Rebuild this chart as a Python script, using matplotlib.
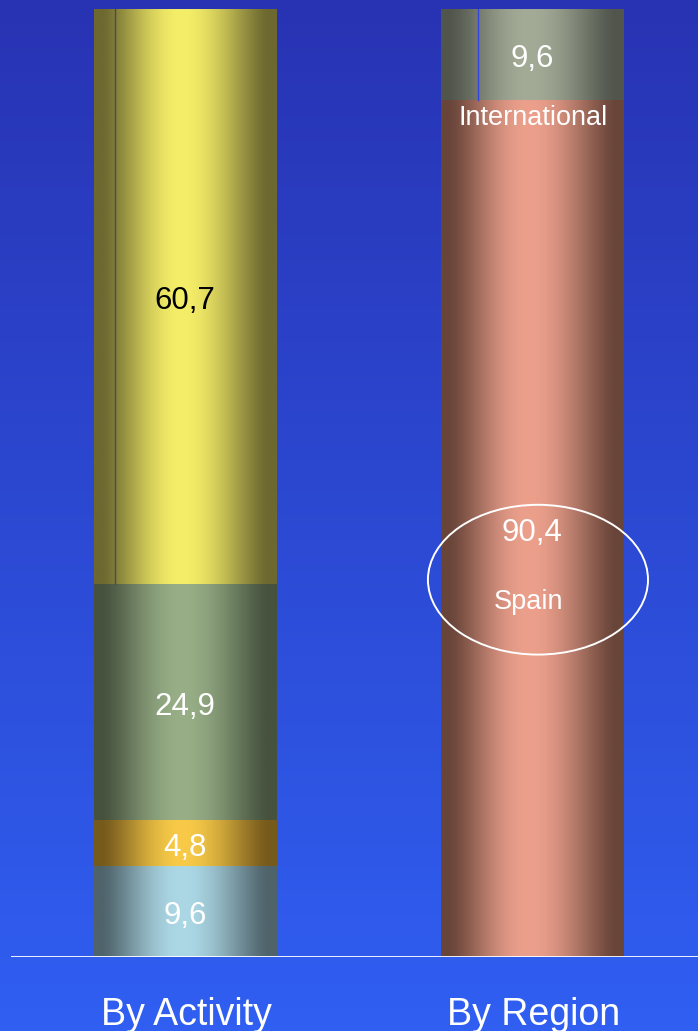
import numpy as np
import matplotlib
matplotlib.use("Agg")
import matplotlib.pyplot as plt
from matplotlib.patches import Ellipse
from matplotlib.colors import to_rgb

plt.rcParams['font.family'] = ['Liberation Sans', 'DejaVu Sans']

groups = ["By Activity", "By Region"]
# stacked from the bottom up
activity_vals = [9.6, 4.8, 24.9, 60.7]
region_vals = [90.4, 9.6]
activity_edge = ["#4f636b", "#765a1c", "#46523e", "#6c6830"]
activity_mid = ["#acd8e5", "#f8ca48", "#97ae86", "#f5ee68"]
region_edge = ["#694539", "#51554c"]
region_mid = ["#eca08c", "#a3ab97"]
activity_txt = ["white", "white", "white", "black"]
region_txt = ["white", "white"]

W, H = 6.98, 10.31
fig = plt.figure(figsize=(W, H), dpi=100)

# background gradient, dark blue at the top, brighter blue at the bottom
bg = fig.add_axes([0, 0, 1, 1], zorder=0)
top, bot = np.array(to_rgb("#2833b3")), np.array(to_rgb("#305ff2"))
g = np.linspace(0, 1, 256)[:, None, None]
bg.imshow(top * (1 - g) + bot * g, aspect="auto", extent=(0, 1, 0, 1))
bg.axis("off")

ax = fig.add_axes([11 / 698, 1 - 957 / 1031, 1 - 11 / 698, (957 - 9) / 1031], zorder=1)
ax.patch.set_alpha(0)
ax.set_xlim(-0.501, 1.478)
ax.set_ylim(0, 100)
ax.axis("off")

bar_w = 0.5245


def cylinder(x, y0, h, c_edge, c_mid):
    # horizontal shading so the bar looks round
    u = np.linspace(0, 1, 200)
    peak = 0.48
    s = np.where(u < peak, u / peak, (1 - u) / (1 - peak))
    w = np.clip((s - 0.08) / 0.92, 0, 1)
    w = np.sin(w * np.pi / 2) ** 1.4
    e, m = np.array(to_rgb(c_edge)), np.array(to_rgb(c_mid))
    img = e[None, :] * (1 - w[:, None]) + m[None, :] * w[:, None]
    ax.imshow(img[None, :, :], aspect="auto", interpolation="bilinear",
              extent=(x - bar_w / 2, x + bar_w / 2, y0, y0 + h), zorder=2)


def stack(x, vals, edges, mids, tcols):
    base = 0
    for v, ce, cm, tc in zip(vals, edges, mids, tcols):
        cylinder(x, base, v, ce, cm)
        ax.text(x, base + v / 2 - 0.45, f"{v:.1f}".replace(".", ","), color=tc,
                fontsize=22.5, ha="center", va="center", zorder=4)
        base += v
    return base


stack(0, activity_vals, activity_edge, activity_mid, activity_txt)
stack(1, region_vals, region_edge, region_mid, region_txt)

# thin seams in the top segments
x0 = -bar_w / 2 + 0.06
ax.plot([x0, x0], [sum(activity_vals[:3]), 100], color="#4a4a5e", lw=1, zorder=3)
x1 = 1 - bar_w / 2 + 0.107
ax.plot([x1, x1], [region_vals[0], 100], color="#3442e0", lw=1, zorder=3)

ax.text(1.003, 88.5, "International", color="white", fontsize=19.5,
        ha="center", va="center", zorder=4)
ax.text(0.99, 37.5, "Spain", color="white", fontsize=19.5,
        ha="center", va="center", zorder=4)
ax.add_patch(Ellipse((1.017, 39.8), 0.634, 15.8, fill=False, ec="white",
                     lw=1.4, zorder=5, clip_on=False))

ax.axhline(0, color="white", lw=1.3, zorder=3)

for i, name in enumerate(groups):
    ax.text(i + 0.005, -6.1, name, color="white", fontsize=27,
            ha="center", va="center", clip_on=False)

fig.savefig("out.png", dpi=100)
